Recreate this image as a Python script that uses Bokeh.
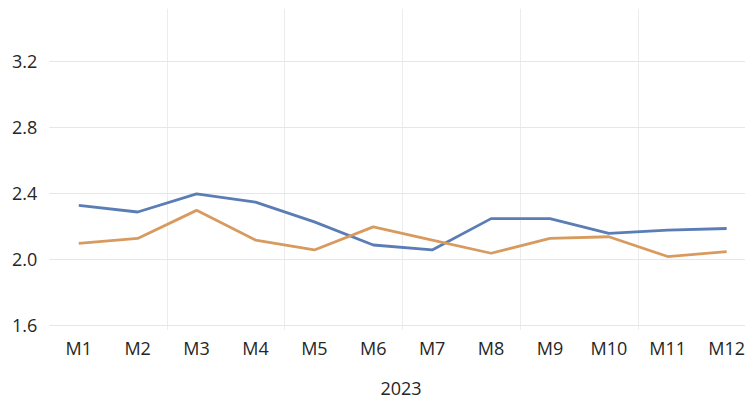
from bokeh.plotting import figure
from bokeh.models import Range1d, FixedTicker, Label, ColumnDataSource, BoxAnnotation
from bokeh.embed import file_html
from bokeh.resources import INLINE

months = ["M1", "M2", "M3", "M4", "M5", "M6", "M7", "M8", "M9", "M10", "M11", "M12"]
series_blue = [2.33, 2.29, 2.40, 2.35, 2.23, 2.09, 2.06, 2.25, 2.25, 2.16, 2.18, 2.19]
series_orange = [2.10, 2.13, 2.30, 2.12, 2.06, 2.20, 2.12, 2.04, 2.13, 2.14, 2.02, 2.05]
y_ticks = [1.6, 2.0, 2.4, 2.8, 3.2]
x_title = "2023"
caption = "ear modeling approaches."

xs = list(range(1, len(months) + 1))
src = ColumnDataSource(dict(x=xs, blue=series_blue, orange=series_orange))

p = figure(width=745, height=402, output_backend="svg", toolbar_location=None,
           x_range=Range1d(-0.329, 12.32), y_range=Range1d(1.517, 3.524),
           min_border_left=0, min_border_right=0, min_border_top=8, min_border_bottom=55)
p.outline_line_color = None
p.background_fill_color = "white"
p.border_fill_color = "white"

# blank strips: left of the category band and below the lowest gridline
p.add_layout(BoxAnnotation(right=0.5, fill_color="white", fill_alpha=1.0,
                           line_color=None, level="glyph"))
p.add_layout(BoxAnnotation(top=1.576, fill_color="white", fill_alpha=1.0,
                           line_color=None, level="glyph"))

p.line("x", "blue", source=src, line_color="#5b7db6", line_width=2.8)
p.line("x", "orange", source=src, line_color="#d89b5f", line_width=2.8)

font = "Open Sans"
# x axis
p.xaxis.bounds = (0.5, len(months) + 0.5)
p.xaxis.ticker = FixedTicker(ticks=xs)
p.xaxis.major_label_overrides = {x: m for x, m in zip(xs, months)}
p.xaxis.axis_line_color = None
p.xaxis.major_tick_line_color = None
p.xaxis.minor_tick_line_color = None
p.xaxis.major_label_text_font = font
p.xaxis.major_label_text_font_size = "18px"
p.xaxis.major_label_text_color = "#262626"
p.xaxis.major_label_standoff = -10
# leading no-break spaces shift the centred title over the category band
p.xaxis.axis_label = "\u00a0" * 12 + x_title
p.xaxis.axis_label_text_font = font
p.xaxis.axis_label_text_font_size = "18px"
p.xaxis.axis_label_text_font_style = "normal"
p.xaxis.axis_label_text_color = "#262626"
p.xaxis.axis_label_standoff = 13

# y axis, pinned at the left edge of the category band
p.yaxis.fixed_location = 0.5
p.yaxis.ticker = FixedTicker(ticks=y_ticks)
p.yaxis.formatter.use_scientific = False
p.yaxis.major_label_overrides = {t: f"{t:.1f}" for t in y_ticks}
p.yaxis.axis_line_color = None
p.yaxis.major_tick_line_color = None
p.yaxis.minor_tick_line_color = None
p.yaxis.major_label_text_font = font
p.yaxis.major_label_text_font_size = "18px"
p.yaxis.major_label_text_color = "#262626"
p.yaxis.major_label_standoff = 6

# grids
p.ygrid.ticker = FixedTicker(ticks=y_ticks)
p.ygrid.grid_line_color = "#e6e6e6"
p.ygrid.grid_line_width = 1
p.xgrid.ticker = FixedTicker(ticks=[2.5, 4.5, 6.5, 8.5, 10.5])
p.xgrid.grid_line_color = "#ececec"
p.xgrid.grid_line_width = 1

# caption fragment at the very top (screen units are relative to the plot frame)
cap = Label(x=0, y=350, x_units="screen", y_units="screen", text=caption,
            text_font="Liberation Serif", text_font_size="32px", text_color="black",
            text_baseline="alphabetic", level="overlay")
p.add_layout(cap)

open("out.html", "w").write(file_html(p, INLINE))
